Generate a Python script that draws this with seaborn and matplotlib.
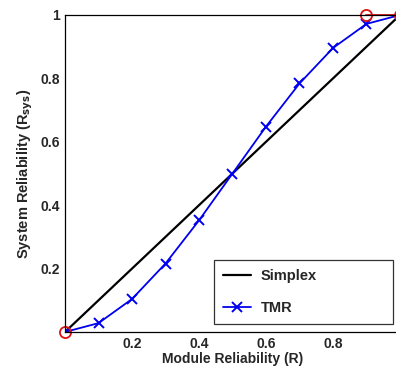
import numpy as np
import pandas as pd
import matplotlib
matplotlib.use("Agg")
import matplotlib.pyplot as plt
import seaborn as sns

# module reliability and system reliability values
module_r = [0.0, 0.1, 0.2, 0.3, 0.4, 0.5, 0.6, 0.7, 0.8, 0.9, 1.0]
simplex_r = [0.0, 0.1, 0.2, 0.3, 0.4, 0.5, 0.6, 0.7, 0.8, 0.9, 1.0]
tmr_r = [0.0, 0.028, 0.104, 0.216, 0.352, 0.5, 0.648, 0.784, 0.896, 0.972, 1.0]
marked_x = [0.9, 1.0]
marked_y = [1.0, 1.0]
origin_x = [0.0]
origin_y = [0.0]

xticks = [0.2, 0.4, 0.6, 0.8]
yticks = [0.2, 0.4, 0.6, 0.8, 1.0]

sns.set_style("white")
plt.rcParams['font.family'] = ['Liberation Sans', 'DejaVu Sans']
plt.rcParams['font.weight'] = 'bold'
plt.rcParams['mathtext.default'] = 'bf'

df = pd.DataFrame({"R": module_r, "Simplex": simplex_r, "TMR": tmr_r})

fig = plt.figure(figsize=(3.96, 3.75), dpi=100)
ax = fig.add_axes([65 / 396, 43 / 375, 335 / 396, 317 / 375])

sns.lineplot(data=df, x="R", y="Simplex", ax=ax, color="black", lw=1.6,
             label="Simplex")
sns.lineplot(data=df, x="R", y="TMR", ax=ax, color="#0000ee", lw=1.3,
             marker="x", markersize=7, markeredgewidth=1.4,
             markeredgecolor="#0000ee", label="TMR")
ax.plot(marked_x, marked_y, color="#dd1111", lw=1.3, marker="o",
        markersize=8, markerfacecolor="none", markeredgewidth=1.3,
        clip_on=False)
ax.plot(origin_x, origin_y, color="#dd1111", lw=0, marker="o",
        markersize=8, markerfacecolor="none", markeredgewidth=1.3,
        clip_on=False)

ax.set_xlim(0, 1)
ax.set_ylim(0, 1)
ax.set_xticks(xticks)
ax.set_yticks(yticks)
ax.set_yticklabels(["0.2", "0.4", "0.6", "0.8", "1"])
ax.tick_params(direction="in", length=4, labelsize=10, width=0.8)
for s in ax.spines.values():
    s.set_color("black")
    s.set_linewidth(0.9)

ax.set_xlabel("Module Reliability (R)", fontsize=10, fontweight="bold",
              labelpad=1)
ax.set_ylabel("System Reliability (R$_{sys}$)", fontsize=10.5,
              fontweight="bold", labelpad=4)

leg = ax.legend(loc="lower left", bbox_to_anchor=(0.445, 0.025, 0.534, 0.19),
                mode="expand", fontsize=10.5, frameon=True, fancybox=False,
                labelspacing=1.25, handlelength=1.9, handletextpad=0.7,
                borderpad=0.6, borderaxespad=0)
leg.get_frame().set_edgecolor("black")
leg.get_frame().set_linewidth(0.9)
for t in leg.get_texts():
    t.set_fontweight("bold")

fig.savefig("out.png", dpi=100)
